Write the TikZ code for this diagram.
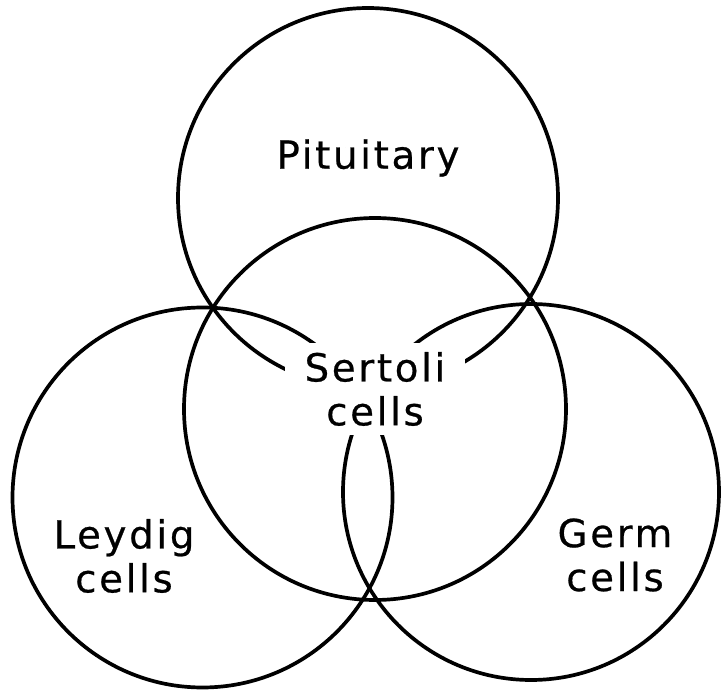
\documentclass[tikz,border=0pt]{standalone}
\usepackage{fontspec}
\newfontfamily\lblfont[LetterSpace=7,FakeBold=0.6]{DejaVu Sans}
\usepackage{tikz}

\begin{document}
\begin{tikzpicture}[ring/.style={line width=2.1pt}, every node/.style={font={\lblfont\fontsize{22}{25}\selectfont}, align=center}]
	\useasboundingbox (0,0) rectangle (14.42,-13.8);
	% centres of the four circles
	\coordinate (pitc) at (7.36,-3.96);
	\coordinate (sertc) at (7.50,-8.18);
	\coordinate (leyc) at (4.05,-9.95);
	\coordinate (germc) at (10.62,-9.84);
	\draw[ring] (pitc) circle (3.8);
	\draw[ring] (sertc) circle (3.82);
	\draw[ring] (leyc) circle (3.8);
	\draw[ring] (germc) circle (3.76);
	\node (pit) at (7.36,-3.16) {Pituitary};
	\node[fill=white, minimum width=3.6cm, minimum height=1.84cm] (sert) at (7.5,-7.78) {Sertoli\\cells};
	\node (ley) at (2.48,-11.12) {Leydig\\cells};
	\node (germ) at (12.3,-11.1) {Germ\\cells};
\end{tikzpicture}
\end{document}
